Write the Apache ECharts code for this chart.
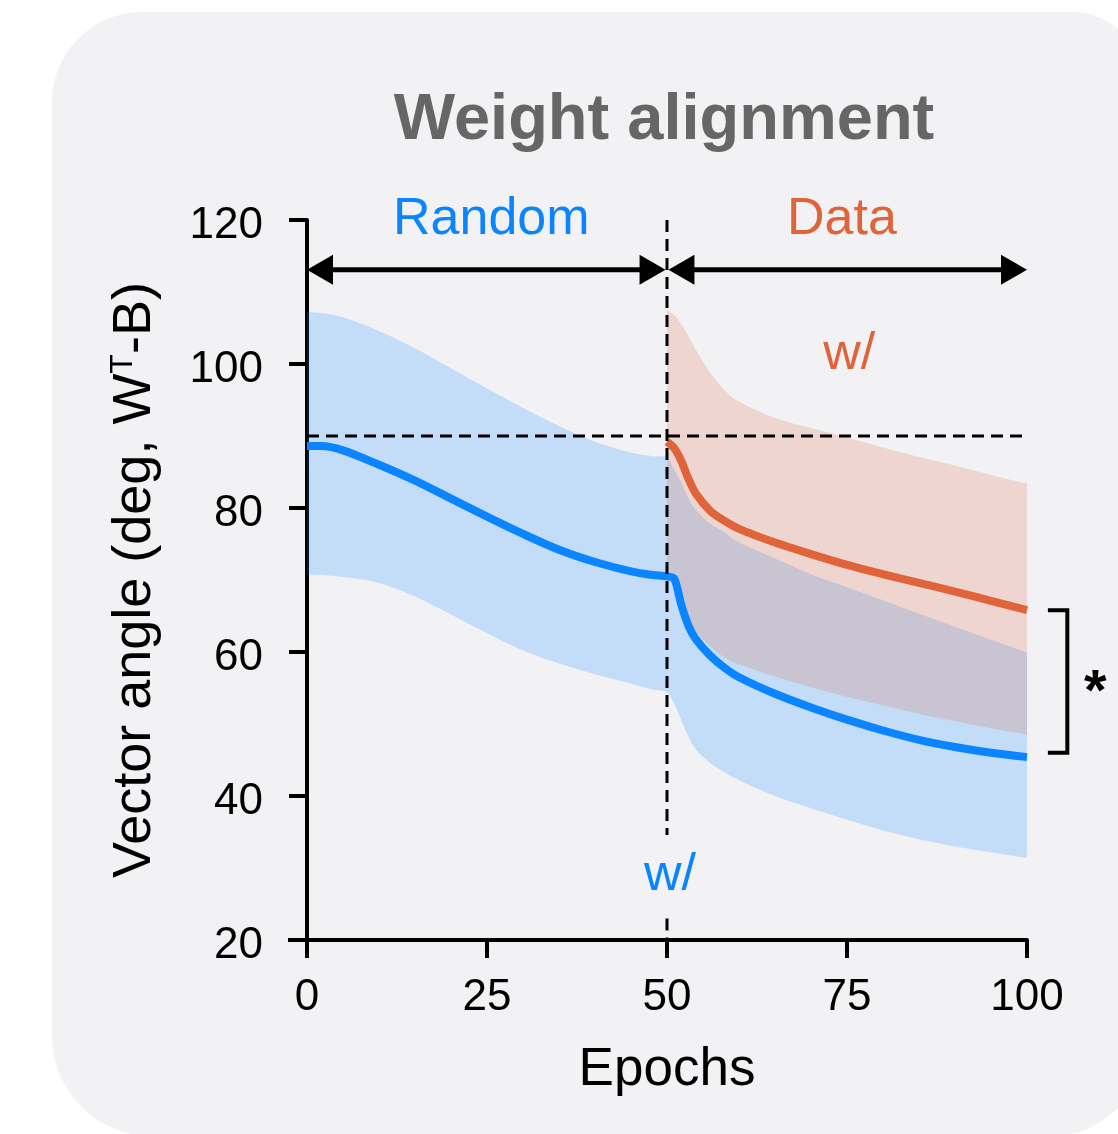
<!DOCTYPE html>
<html><head><meta charset="utf-8">
<script src="https://cdn.jsdelivr.net/npm/echarts@6/dist/echarts.min.js"></script>
<style>html,body{margin:0;padding:0;background:#fff}#c{width:1118px;height:1134px}</style>
</head><body><div id="c"></div><script>
// ---- data ----
const blueEpochs  = [0,2,5,10,15,20,25,30,35,40,45,48,50,51,52,53,54,56,58,60,65,70,75,80,85,90,95,100];
const blueMean    = [88.6,88.6,88.0,86.0,83.8,81.3,78.8,76.4,74.2,72.5,71.2,70.7,70.5,70.2,66.5,63.6,61.8,59.5,57.8,56.5,54.2,52.3,50.6,49.1,47.8,46.8,46.0,45.4];
const blueUpper   = [107.2,107.1,106.5,104.6,102.2,99.4,96.6,93.9,91.4,89.2,87.7,87.2,87.0,85.3,83.5,81.3,79.8,77.8,76.6,75.2,73.0,70.8,69.0,67.2,65.3,63.5,61.7,59.9];
const blueLower   = [70.7,70.7,70.4,69.6,67.7,65.2,62.6,60.2,58.4,56.9,55.6,54.8,54.4,52.8,50.5,48.2,46.5,44.6,43.3,42.2,40.0,38.3,36.7,35.2,34.0,33.0,32.2,31.4];
const dataEpochs  = [50,51,52,53,54,56,58,60,65,70,75,80,85,90,95,100];
const orangeMean  = [89.2,88.3,86.5,84.0,82.0,79.6,78.2,77.1,75.2,73.6,72.1,70.8,69.6,68.4,67.1,65.8];
const orangeUpper = [107.5,106.8,105.5,103.8,102.0,98.8,96.4,94.8,92.5,91.1,89.8,88.4,87.1,85.9,84.6,83.4];
const orangeLower = [72.0,70.0,67.0,64.5,62.8,60.8,59.2,58.3,56.6,55.1,53.8,52.6,51.4,50.4,49.4,48.5];
const xTickValues = [0,25,50,75,100];
const yTickValues = [20,40,60,80,100,120];
// annotation values (data units)
const arrowLevel = 113.1;
const chanceLevel = 90;
const phaseSplit = 50;
const bracketTop = 65.8, bracketBottom = 46.0;

const BLUE = '#0a85ff', ORANGE = '#e0643a';
const FONT = '"Liberation Sans", Arial, sans-serif';

const chart = echarts.init(document.getElementById('c'), null, {renderer: 'canvas'});

function cr(pts) {
  let d = '';
  for (let i = 0; i < pts.length - 1; i++) {
    const p0 = pts[Math.max(i - 1, 0)], p1 = pts[i], p2 = pts[i + 1], p3 = pts[Math.min(i + 2, pts.length - 1)];
    const t = 1 / 6;
    const c1 = [p1[0] + (p2[0] - p0[0]) * t, p1[1] + (p2[1] - p0[1]) * t];
    const c2 = [p2[0] - (p3[0] - p1[0]) * t, p2[1] - (p3[1] - p1[1]) * t];
    d += ' C' + c1[0] + ' ' + c1[1] + ' ' + c2[0] + ' ' + c2[1] + ' ' + p2[0] + ' ' + p2[1];
  }
  return d;
}

function band(xs, lo, hi, color, z) {
  return {
    type: 'custom', coordinateSystem: 'cartesian2d', silent: true, z: z,
    data: xs.map((x, i) => [x, lo[i], hi[i]]),
    encode: {x: 0, y: [1, 2]},
    renderItem: function (params, api) {
      if (params.dataIndex !== 0) return null;
      const up = xs.map((x, i) => api.coord([x, hi[i]]));
      const dn = xs.map((x, i) => api.coord([x, lo[i]])).reverse();
      let d = 'M' + up[0][0] + ' ' + up[0][1] + cr(up);
      d += ' L' + dn[0][0] + ' ' + dn[0][1] + cr(dn) + ' Z';
      return {type: 'path', shape: {pathData: d}, style: {fill: color, stroke: null}};
    }
  };
}

function meanLine(xs, ys, color, z) {
  return {
    type: 'line', data: xs.map((x, i) => [x, ys[i]]), smooth: 0.3, showSymbol: false,
    symbol: 'none', silent: true, z: z,
    lineStyle: {color: color, width: 8, cap: 'butt'}
  };
}

chart.setOption({
  backgroundColor: '#ffffff',
  animation: false,
  grid: {left: 307, right: 91, top: 220, bottom: 194, containLabel: false},
  xAxis: {
    type: 'value', min: 0, max: 100, interval: 25,
    name: 'Epochs', nameLocation: 'middle', nameGap: 104,
    nameTextStyle: {fontFamily: FONT, fontSize: 53, color: '#000'},
    axisLine: {show: true, lineStyle: {color: '#000', width: 4}},
    axisTick: {show: true, length: 18, lineStyle: {color: '#000', width: 4}},
    axisLabel: {fontFamily: FONT, fontSize: 44, color: '#000', margin: 36,
      formatter: v => xTickValues.includes(v) ? String(v) : ''},
    splitLine: {show: false}
  },
  yAxis: {
    type: 'value', min: 20, max: 120, interval: 20,
    name: 'Vector angle (deg, W{sup|T}-B)', nameLocation: 'middle', nameGap: 144,
    nameTextStyle: {fontFamily: FONT, fontSize: 54, color: '#000',
      rich: {sup: {fontFamily: FONT, fontSize: 32, color: '#000', verticalAlign: 'top', padding: [0, 0, 24, 0]}}},
    axisLine: {show: true, lineStyle: {color: '#000', width: 4}},
    axisTick: {show: true, length: 18, lineStyle: {color: '#000', width: 4}},
    axisLabel: {color: '#000', margin: 44,
      formatter: v => yTickValues.includes(v) ? '{t|' + v + '}' : '',
      rich: {t: {fontFamily: FONT, fontSize: 44, color: '#000', padding: [12, 0, 0, 0]}}},
    splitLine: {show: false}
  },
  series: [
    band(blueEpochs, blueLower, blueUpper, 'rgba(10,133,255,0.2)', 1),
    band(dataEpochs, orangeLower, orangeUpper, 'rgba(224,100,58,0.2)', 2),
    meanLine(blueEpochs, blueMean, BLUE, 3),
    meanLine(dataEpochs, orangeMean, ORANGE, 4)
  ]
});

const P = (x, y) => chart.convertToPixel({gridIndex: 0}, [x, y]);
const g = [];
// background panel
g.push({type: 'rect', z: -100, silent: true, shape: {x: 52, y: 12, width: 1090, height: 1124, r: [90, 70, 90, 100]}, style: {fill: '#f2f2f5'}});
// title
g.push({type: 'text', z: 100, x: 664, y: 121, style: {text: 'Weight alignment', font: 'bold 65px ' + FONT, fill: '#666666', align: 'center', verticalAlign: 'middle'}});
// dashed lines
const dash = {stroke: '#000', lineWidth: 3, lineDash: [12, 7]};
let a = P(0, chanceLevel), b = P(100, chanceLevel);
g.push({type: 'line', z: 100, shape: {x1: a[0], y1: a[1], x2: b[0], y2: b[1]}, style: dash});
a = P(phaseSplit, 120); b = P(phaseSplit, 34.6);
g.push({type: 'line', z: 100, shape: {x1: a[0], y1: a[1], x2: b[0], y2: b[1]}, style: dash});
a = P(phaseSplit, 23); b = P(phaseSplit, 20);
g.push({type: 'line', z: 100, shape: {x1: a[0], y1: a[1], x2: b[0], y2: b[1]}, style: dash});
// arrows
function arrow(x0, x1) {
  const p0 = P(x0, arrowLevel), p1 = P(x1, arrowLevel);
  const L = 26, H = 15;
  const s = p1[0] > p0[0] ? 1 : -1;
  g.push({type: 'line', z: 100, shape: {x1: p0[0] + s * 10, y1: p0[1], x2: p1[0] - s * 10, y2: p1[1]}, style: {stroke: '#000', lineWidth: 5}});
  g.push({type: 'polygon', z: 100, shape: {points: [[p0[0], p0[1]], [p0[0] + s * L, p0[1] - H], [p0[0] + s * L, p0[1] + H]]}, style: {fill: '#000'}});
  g.push({type: 'polygon', z: 100, shape: {points: [[p1[0], p1[1]], [p1[0] - s * L, p1[1] - H], [p1[0] - s * L, p1[1] + H]]}, style: {fill: '#000'}});
}
arrow(0, phaseSplit - 0.2);
arrow(phaseSplit + 0.2, 100);
// labels
function label(txt, x, y, color) {
  const p = P(x, y);
  g.push({type: 'text', z: 100, x: p[0], y: p[1], style: {text: txt, font: '52px ' + FONT, fill: color, align: 'center', verticalAlign: 'middle'}});
}
label('Random', 25.6, 120, BLUE);
label('Data', 74.3, 120, ORANGE);
label('w/', 75.3, 101.25, ORANGE);
label('w/', 50.4, 29.0, BLUE);
// bracket
const t1 = P(102.9, bracketTop), t2 = P(105.6, bracketTop), b2 = P(105.6, bracketBottom), b1 = P(102.9, bracketBottom);
g.push({type: 'polyline', z: 100, shape: {points: [t1, t2, b2, b1]}, style: {stroke: '#000', lineWidth: 4, fill: null, lineJoin: 'miter'}});
const sp = P(109.5, (bracketTop + bracketBottom) / 2);
g.push({type: 'text', z: 100, x: sp[0], y: sp[1] + 12, style: {text: '*', font: 'bold 58px ' + FONT, fill: '#000', align: 'center', verticalAlign: 'middle'}});
// x-axis extension to the left (as in the reference)
a = P(0, 20);
g.push({type: 'line', z: 100, shape: {x1: a[0] - 19, y1: a[1], x2: a[0], y2: a[1]}, style: {stroke: '#000', lineWidth: 4}});
chart.setOption({graphic: g});
</script></body></html>
